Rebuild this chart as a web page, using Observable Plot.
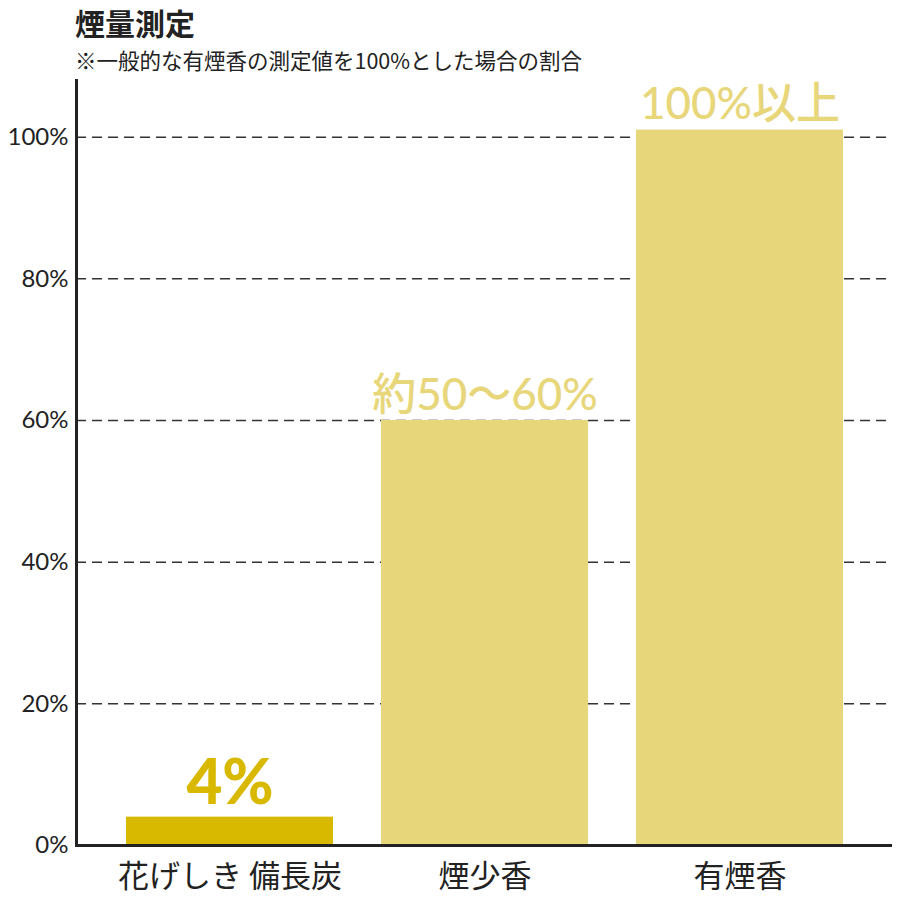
<!DOCTYPE html>
<html>
<head>
<meta charset="utf-8">
<script src="https://cdn.jsdelivr.net/npm/d3@7"></script>
<script src="https://cdn.jsdelivr.net/npm/@observablehq/plot@0.6"></script>
<style>
  html, body { margin: 0; padding: 0; background: #fff; }
  body { font-family: "Lato", "Noto Sans CJK JP", sans-serif; color: #222; }
  #wrap { width: 900px; }
  #head { height: 75px; box-sizing: border-box; padding-left: 75px; }
  #title { font-family: "Noto Sans CJK JP", sans-serif; font-weight: 700; font-size: 30px; line-height: normal; }
  #subtitle { font-family: "Noto Sans CJK JP", sans-serif; font-size: 21.5px; line-height: normal; }
  svg { display: block; }
</style>
</head>
<body>
<div id="wrap">
  <div id="head">
    <div id="title">煙量測定</div>
    <div id="subtitle">※一般的な有煙香の測定値を100%とした場合の割合</div>
  </div>
  <div id="chart"></div>
</div>
<script>
const categories = ["花げしき 備長炭", "煙少香", "有煙香"];
const values = [4, 60, 101];
const valueLabels = ["4%", "約50～60%", "100%以上"];
const barColors = ["#D9B800", "#E8D67A", "#E8D67A"];
const labelColors = ["#D9B800", "#E8D67A", "#E8D67A"];
const yTicks = [0, 20, 40, 60, 80, 100];
const gridTicks = [20, 40, 60, 80, 100];

const data = categories.map((c, i) => ({
  name: c, value: values[i], label: valueLabels[i], fill: barColors[i], labelColor: labelColors[i], idx: i
}));

const chart = Plot.plot({
  width: 900,
  height: 825,
  marginTop: 5,
  marginBottom: 55,
  marginLeft: 76,
  marginRight: 8,
  style: { fontFamily: "Lato, 'Noto Sans CJK JP', sans-serif", color: "#222", background: "#fff", overflow: "visible" },
  x: { domain: categories, paddingInner: 0.19, paddingOuter: 0.195, label: null },
  y: { domain: [0, 108], ticks: yTicks, label: null },
  marks: [
    Plot.ruleY(gridTicks, { stroke: "#333", strokeWidth: 1.5, strokeDasharray: "10,6" }),
    Plot.barY(data, { x: "name", y: "value", fill: "fill" }),
    Plot.text(data.filter(d => d.idx === 0), {
      x: "name", y: "value", text: "label", fill: "labelColor",
      lineAnchor: "bottom", dy: -13, fontSize: 62, fontWeight: 900,
      fontFamily: "Lato, 'Noto Sans CJK JP', sans-serif"
    }),
    Plot.text(data.filter(d => d.idx !== 0), {
      x: "name", y: "value", text: "label", fill: "labelColor",
      lineAnchor: "bottom", dy: -11, fontSize: 44, fontWeight: 500,
      fontFamily: "Lato, 'Noto Sans CJK JP', sans-serif"
    }),
    Plot.axisY({ ticks: yTicks, tickFormat: d => d + "%", tickSize: 0, tickPadding: 8, fontSize: 24, label: null }),
    Plot.axisX({ tickSize: 0, tickPadding: 19, fontSize: 31, label: null, fontFamily: "'Noto Sans CJK JP', sans-serif" }),
    Plot.ruleY([0], { stroke: "#222", strokeWidth: 3 }),
    Plot.frame({ anchor: "left", stroke: "#222", strokeWidth: 3 })
  ]
});
document.getElementById("chart").appendChild(chart);
</script>
</body>
</html>
